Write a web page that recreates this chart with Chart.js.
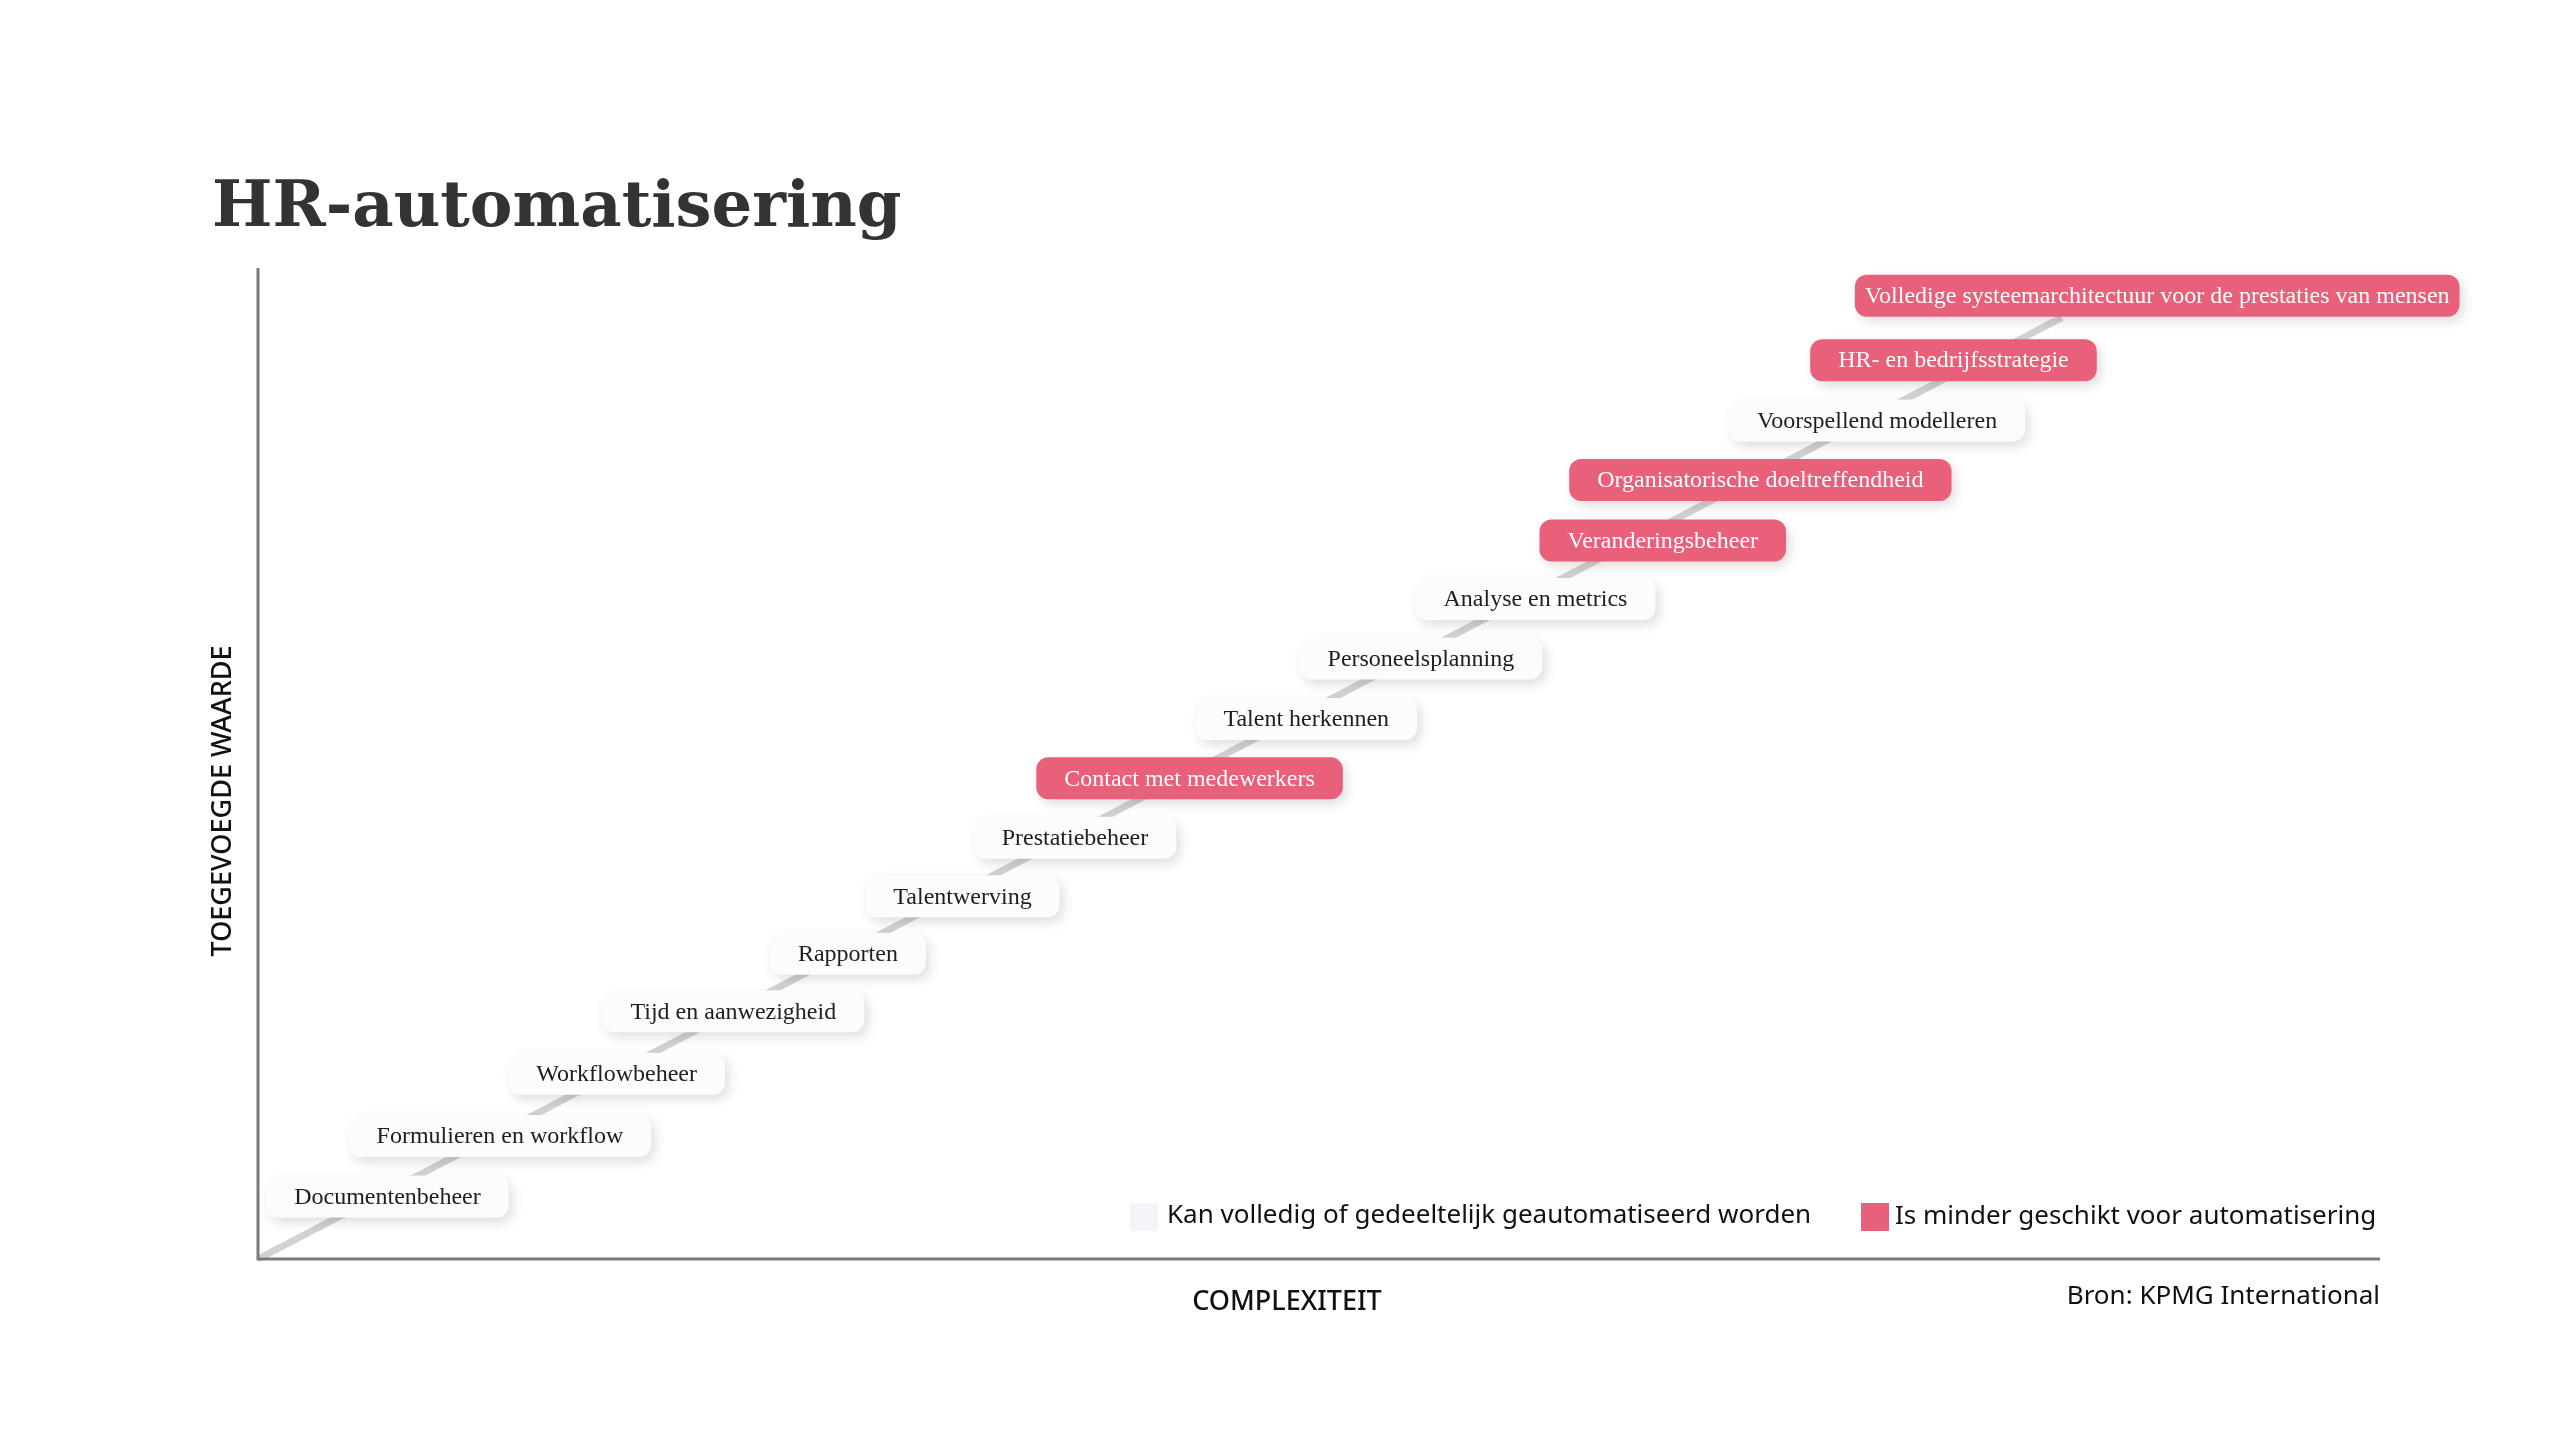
<!DOCTYPE html>
<html><head><meta charset="utf-8">
<script src="https://cdn.jsdelivr.net/npm/chart.js@4"></script>
<style>html,body{margin:0;padding:0;background:#fff}#wrap{width:2560px;height:1440px}</style>
</head><body><div id="wrap"><canvas id="c" width="2560" height="1440"></canvas></div>
<script>
const labels = ["Documentenbeheer","Formulieren en workflow","Workflowbeheer","Tijd en aanwezigheid","Rapporten","Talentwerving","Prestatiebeheer","Contact met medewerkers","Talent herkennen","Personeelsplanning","Analyse en metrics","Veranderingsbeheer","Organisatorische doeltreffendheid","Voorspellend modelleren","HR- en bedrijfsstrategie","Volledige systeemarchitectuur voor de prestaties van mensen"];
const complexity = [6.1,11.4,16.9,22.4,27.8,33.2,38.5,43.9,49.4,54.8,60.2,66.2,70.8,76.3,79.9,89.5];
const addedValue = [6.3,12.4,18.7,25.0,30.8,36.6,42.5,48.5,54.5,60.6,66.6,72.5,78.6,84.6,90.7,97.2];
const lessSuitable = [0,0,0,0,0,0,0,1,0,0,0,1,1,0,1,1];
const trendX = [0,85];
const trendY = [0,95];
const legendLabels = ["Kan volledig of gedeeltelijk geautomatiseerd worden","Is minder geschikt voor automatisering"];

const PINK = '#e8607a';
function rr(ctx,x,y,w,h,r){ctx.beginPath();ctx.moveTo(x+r,y);ctx.arcTo(x+w,y,x+w,y+h,r);ctx.arcTo(x+w,y+h,x,y+h,r);ctx.arcTo(x,y+h,x,y,r);ctx.arcTo(x,y,x+w,y,r);ctx.closePath();}

const deco = {
  id:'deco',
  afterDatasetsDraw(chart){
    const ctx = chart.ctx, meta = chart.getDatasetMeta(1);
    ctx.save();
    ctx.font = '24px "Liberation Serif", serif';
    ctx.textAlign='center'; ctx.textBaseline='middle';
    meta.data.forEach((pt,i)=>{
      const t = labels[i]; const tw = ctx.measureText(t).width;
      const w = tw + (i===15?20:56), h = 42;
      const x = pt.x - w/2, y = pt.y - h/2;
      ctx.save();
      ctx.shadowColor='rgba(0,0,0,0.13)'; ctx.shadowBlur=12; ctx.shadowOffsetX=4; ctx.shadowOffsetY=5;
      ctx.fillStyle = lessSuitable[i] ? PINK : '#fdfcfa';
      rr(ctx,x,y,w,h,12); ctx.fill();
      ctx.restore();
      ctx.fillStyle = lessSuitable[i] ? '#fff' : '#1e1e1e';
      ctx.fillText(t, pt.x, pt.y+1);
    });
    ctx.restore();
  },
  afterDraw(chart){
    const ctx = chart.ctx, a = chart.chartArea;
    ctx.save();
    // axes
    ctx.strokeStyle='#7a7a7a'; ctx.lineWidth=3;
    ctx.beginPath(); ctx.moveTo(a.left,a.top); ctx.lineTo(a.left,a.bottom); ctx.lineTo(a.right,a.bottom); ctx.stroke();
    // title
    ctx.fillStyle='#333'; ctx.textAlign='left'; ctx.textBaseline='alphabetic';
    ctx.font='bold 64px "DejaVu Serif", serif';
    ctx.fillText('HR-automatisering', 212, 226);
    // axis titles
    ctx.fillStyle='#111';
    ctx.font='500 27px "Noto Sans", sans-serif'; ctx.textAlign='center'; ctx.textBaseline='middle';
    ctx.fillText('COMPLEXITEIT', 1287, 1302);
    ctx.save(); ctx.translate(223,801); ctx.rotate(-Math.PI/2); ctx.fillText('TOEGEVOEGDE WAARDE',0,0); ctx.restore();
    ctx.font='26px "Noto Sans", sans-serif'; ctx.textAlign='right';
    ctx.fillText('Bron: KPMG International', 2380, 1297);
    // legend
    ctx.textAlign='left';
    ctx.fillStyle='#f6f3fb'; ctx.fillRect(1130,1203,28,28);
    ctx.fillStyle='#111'; ctx.fillText(legendLabels[0], 1167, 1216);
    ctx.fillStyle=PINK; ctx.fillRect(1861,1203,28,28);
    ctx.fillStyle='#111'; ctx.fillText(legendLabels[1], 1895, 1217);
    ctx.restore();
  }
};

new Chart(document.getElementById('c'),{
  type:'scatter',
  data:{datasets:[
    {type:'line',data:trendX.map((x,i)=>({x,y:trendY[i]})),borderColor:'#d2d2d2',borderWidth:7,pointRadius:0,clip:false},
    {data:complexity.map((x,i)=>({x,y:addedValue[i]})),pointRadius:0,backgroundColor:'transparent'}
  ]},
  options:{
    responsive:false,animation:false,devicePixelRatio:1,
    layout:{padding:{left:258,right:180,top:268,bottom:181}},
    plugins:{legend:{display:false},tooltip:{enabled:false},title:{display:false}},
    scales:{x:{type:'linear',min:0,max:100,display:false},y:{type:'linear',min:0,max:100,display:false}}
  },
  plugins:[deco]
});
</script></body></html>
